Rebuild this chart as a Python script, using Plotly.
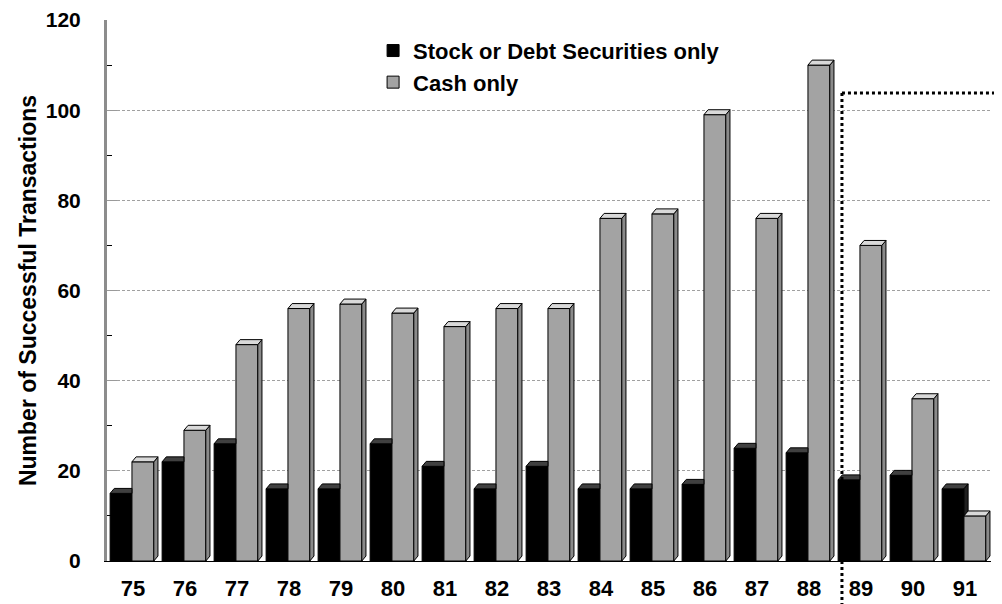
import plotly.graph_objects as go

years = ["75", "76", "77", "78", "79", "80", "81", "82", "83",
         "84", "85", "86", "87", "88", "89", "90", "91"]
stock_debt = [15, 22, 26, 16, 16, 26, 21, 16, 21, 16, 16, 17, 25, 24, 18, 19, 16]
cash_only = [22, 29, 48, 56, 57, 55, 52, 56, 56, 76, 77, 99, 76, 110, 70, 36, 10]

FONT = "Liberation Sans, Arial, sans-serif"
xpos = list(range(len(years)))

# bar geometry (category units) and pseudo-3D depth
BW = 0.42
OFF_S = -0.44
OFF_C = -0.02
DX = 0.08
DY = 1.1

fig = go.Figure()
fig.add_trace(go.Bar(
    x=xpos, y=stock_debt, name="Stock or Debt Securities only",
    offset=OFF_S, width=BW,
    marker=dict(color="#000000", line=dict(color="#000000", width=1)),
))
fig.add_trace(go.Bar(
    x=xpos, y=cash_only, name="Cash only",
    offset=OFF_C, width=BW,
    marker=dict(color="#a3a3a3", line=dict(color="#000000", width=1)),
))

# 3D caps and side faces computed from the data
s_top_x, s_top_y, s_side_x, s_side_y = [], [], [], []
c_top_x, c_top_y, c_side_x, c_side_y = [], [], [], []
for i, (s, c) in enumerate(zip(stock_debt, cash_only)):
    x0 = i + OFF_S
    x1 = x0 + BW
    if c >= s:
        s_top_x += [x0, x0 + DX, x1, x1, x0, None]
        s_top_y += [s, s + DY, s + DY, s, s, None]
    else:
        s_top_x += [x0, x0 + DX, x1 + DX, x1, x0, None]
        s_top_y += [s, s + DY, s + DY, s, s, None]
        s_side_x += [x1, x1 + DX, x1 + DX, x1, x1, None]
        s_side_y += [s, s + DY, c + DY, c, s, None]
    cx0 = i + OFF_C
    cx1 = cx0 + BW
    c_side_x += [cx1, cx1 + DX, cx1 + DX, cx1, cx1, None]
    c_side_y += [c, c + DY, DY, 0, c, None]
    c_top_x += [cx0, cx0 + DX, cx1 + DX, cx1, cx0, None]
    c_top_y += [c, c + DY, c + DY, c, c, None]

def face(xs, ys, color):
    return go.Scatter(x=xs, y=ys, mode="lines", fill="toself", fillcolor=color,
                      line=dict(color="#000000", width=1), showlegend=False,
                      hoverinfo="skip")

fig.add_trace(face(s_top_x, s_top_y, "#404040"))
fig.add_trace(face(s_side_x, s_side_y, "#202020"))
fig.add_trace(face(c_side_x, c_side_y, "#8a8a8a"))
fig.add_trace(face(c_top_x, c_top_y, "#d9d9d9"))

fig.update_layout(
    width=994, height=596,
    margin=dict(l=99, r=11, t=12, b=43),
    paper_bgcolor="white", plot_bgcolor="white",
    barmode="overlay",
    font=dict(family=FONT, size=21, color="#000000"),
    legend=dict(
        x=0.301, y=0.982, xanchor="left", yanchor="top",
        font=dict(family=FONT, size=22, color="#000000", weight="bold"),
        bgcolor="rgba(0,0,0,0)", itemwidth=30,
    ),
    xaxis=dict(
        range=[-0.5, 16.5], tickvals=xpos, ticktext=years,
        tickfont=dict(family=FONT, size=22, weight="bold"),
        showgrid=False, zeroline=False, showline=True, automargin=False,
        linecolor="#000000", linewidth=1, ticks="", ticklabelstandoff=8,
    ),
    yaxis=dict(
        range=[0, 120], dtick=20, automargin=False,
        tickfont=dict(family=FONT, size=21, weight="bold"),
        showgrid=True, gridcolor="#a0a0a0", griddash="3px,2px", gridwidth=1,
        zeroline=False, showline=True, linecolor="#8c8c8c", linewidth=3,
        ticks="inside", ticklen=10, tickcolor="#9a9a9a", ticklabelstandoff=19,
        minor=dict(dtick=10, ticks="inside", ticklen=5, tickcolor="#000000",
                   showgrid=False),
        title=dict(text="Number of Successful Transactions",
                   font=dict(family=FONT, size=23, weight="bold"), standoff=3),
    ),
    shapes=[
        dict(type="line", xref="paper", yref="paper",
             x0=0.8314, x1=0.8314, y0=0.865, y1=-0.09,
             line=dict(color="#000000", width=3, dash="dot")),
        dict(type="line", xref="paper", yref="paper",
             x0=0.8314, x1=1.02, y0=0.865, y1=0.865,
             line=dict(color="#000000", width=3, dash="dot")),
    ],
)

fig.write_html("out.html")
